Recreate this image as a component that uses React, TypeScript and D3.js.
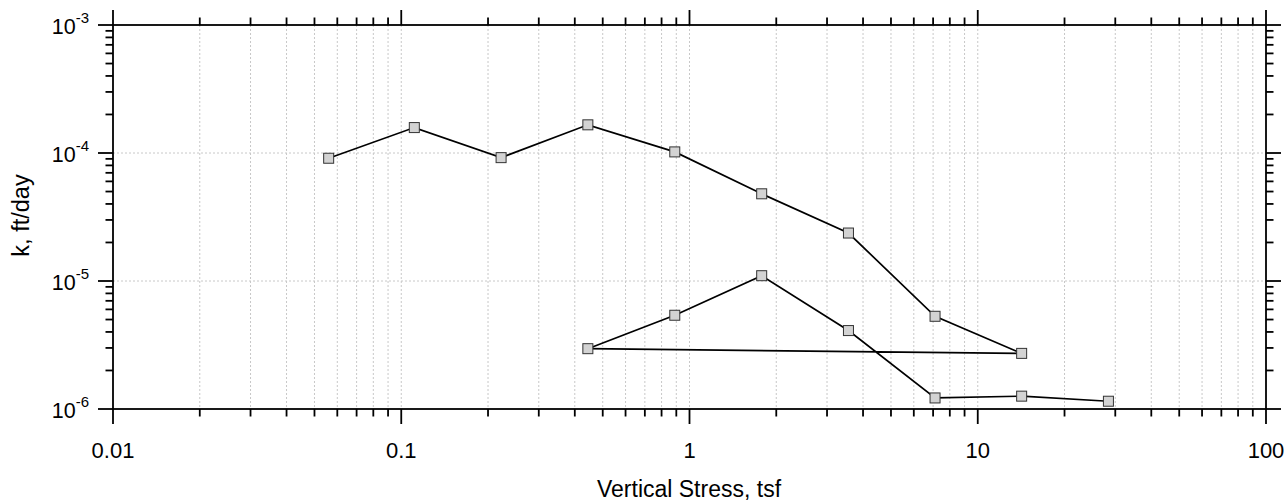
import React from "react";
import * as d3 from "d3";

const stress = [0.056, 0.111, 0.222, 0.444, 0.889, 1.78, 3.56, 7.11, 14.2, 0.444, 0.889, 1.78, 3.56, 7.11, 14.2, 28.4];
const kValues = [9.1e-5, 1.58e-4, 9.2e-5, 1.66e-4, 1.02e-4, 4.8e-5, 2.37e-5, 5.3e-6, 2.72e-6, 2.96e-6, 5.4e-6, 1.1e-5, 4.1e-6, 1.22e-6, 1.26e-6, 1.15e-6];
const xMajor = [0.01, 0.1, 1, 10, 100];
const xMajorLabels = ["0.01", "0.1", "1", "10", "100"];
const yMajor = [1e-6, 1e-5, 1e-4, 1e-3];
const yExponents = ["-6", "-5", "-4", "-3"];
const xTitle = "Vertical Stress, tsf";
const yTitle = "k, ft/day";

const W = 1288, H = 501;
const L = 113, R = 1266, T = 25, B = 409;
const FONT = "'Liberation Sans', Arial, Helvetica, sans-serif";

function minors(lo: number, hi: number) {
  const out: number[] = [];
  for (let d = lo; d < hi; d *= 10) {
    for (let m = 2; m <= 9; m++) out.push(d * m);
  }
  return out;
}

export default function App() {
  const x = d3.scaleLog().domain([0.01, 100]).range([L, R]);
  const y = d3.scaleLog().domain([1e-6, 1e-3]).range([B, T]);
  const xMinor = minors(0.01, 100);
  const yMinor = minors(1e-6, 1e-3);
  const pts = stress.map((s, i) => [x(s), y(kValues[i])] as [number, number]);
  const line = d3.line()(pts) || "";
  const major = 15, minor = 7.5;
  const sw = 1.8;
  return (
    <svg width={W} height={H} style={{ position: "absolute", left: 0, top: 0, background: "#fff" }}>
      {/* grid */}
      <g stroke="#c8c8c8" strokeWidth={1} strokeDasharray="2,2">
        {[...xMinor, ...xMajor.slice(1, -1)].map((v, i) => (
          <line key={"gx" + i} x1={x(v)} x2={x(v)} y1={T} y2={B} />
        ))}
        {yMajor.slice(1, -1).map((v, i) => (
          <line key={"gy" + i} x1={L} x2={R} y1={y(v)} y2={y(v)} />
        ))}
      </g>
      {/* frame */}
      <rect x={L} y={T} width={R - L} height={B - T} fill="none" stroke="#000" strokeWidth={sw} />
      <g stroke="#000" strokeWidth={sw}>
        {xMajor.map((v, i) => (
          <g key={"xm" + i}>
            <line x1={x(v)} x2={x(v)} y1={B} y2={B + major} />
            <line x1={x(v)} x2={x(v)} y1={T} y2={T - major} />
          </g>
        ))}
        {xMinor.map((v, i) => (
          <g key={"xn" + i}>
            <line x1={x(v)} x2={x(v)} y1={B} y2={B + minor} />
            <line x1={x(v)} x2={x(v)} y1={T} y2={T - minor} />
          </g>
        ))}
        {yMajor.map((v, i) => (
          <g key={"ym" + i}>
            <line x1={L} x2={L - major} y1={y(v)} y2={y(v)} />
            <line x1={R} x2={R + major} y1={y(v)} y2={y(v)} />
          </g>
        ))}
        {yMinor.map((v, i) => (
          <g key={"yn" + i}>
            <line x1={L} x2={L - minor} y1={y(v)} y2={y(v)} />
            <line x1={R} x2={R + minor} y1={y(v)} y2={y(v)} />
          </g>
        ))}
      </g>
      {/* x labels */}
      <g fontFamily={FONT} fontSize={22} fill="#000" textAnchor="middle">
        {xMajor.map((v, i) => (
          <text key={"xl" + i} x={x(v)} y={458}>{xMajorLabels[i]}</text>
        ))}
      </g>
      {/* y labels */}
      <g fontFamily={FONT} fill="#000" textAnchor="end">
        {yMajor.map((v, i) => (
          <text key={"yl" + i} x={89} y={y(v) + 9} fontSize={21.5}>
            10<tspan fontSize={15} dy={-11}>{yExponents[i]}</tspan>
          </text>
        ))}
      </g>
      {/* titles */}
      <text x={689} y={497} textAnchor="middle" fontFamily={FONT} fontSize={23} fill="#000">{xTitle}</text>
      <text transform={`translate(29,${215.5}) rotate(-90)`} textAnchor="middle" fontFamily={FONT} fontSize={23.5} fill="#000">{yTitle}</text>
      {/* data */}
      <path d={line} fill="none" stroke="#000" strokeWidth={1.7} />
      <g fill="#d3d3d3" stroke="#333" strokeWidth={1}>
        {pts.map((p, i) => (
          <rect key={"p" + i} x={p[0] - 5} y={p[1] - 5} width={10} height={10} />
        ))}
      </g>
    </svg>
  );
}
